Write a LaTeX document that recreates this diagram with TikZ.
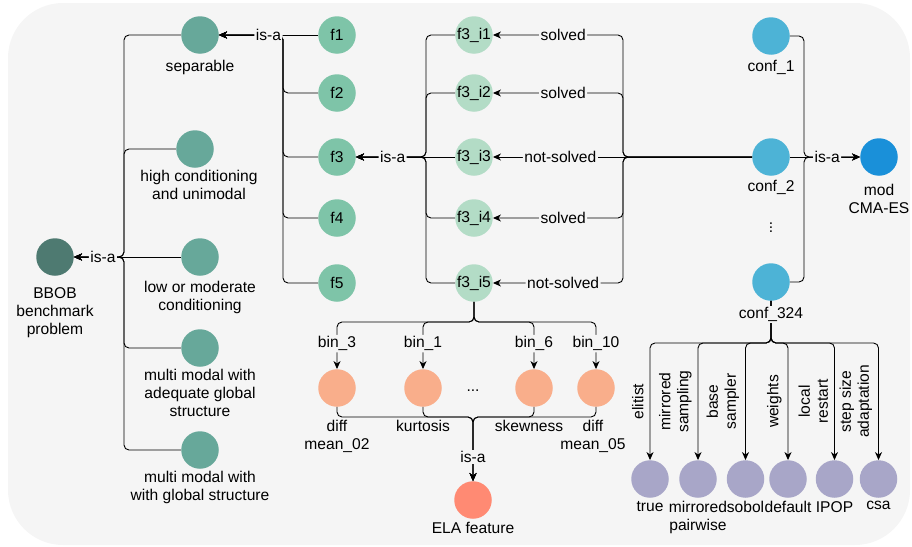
\documentclass[tikz,border=0pt]{standalone}
\usepackage{fontspec}
\setmainfont{Liberation Sans}
\usepackage{tikz}
\usetikzlibrary{arrows.meta,positioning}

\definecolor{bgcol}{HTML}{F5F5F5}
\definecolor{bbobcol}{HTML}{4E7A71}
\definecolor{catcol}{HTML}{67A89A}
\definecolor{funcol}{HTML}{7EC4A8}
\definecolor{instcol}{HTML}{B3DCC6}
\definecolor{confcol}{HTML}{4DB3D6}
\definecolor{modcol}{HTML}{1A90D9}
\definecolor{featcol}{HTML}{F9AE8B}
\definecolor{elacol}{HTML}{FF8A73}
\definecolor{modulecol}{HTML}{A8A6C8}

\begin{document}
\begin{tikzpicture}[x=1pt, y=-1pt, >={Stealth[length=8pt,width=7pt,inset=2.5pt]},
    font=\fontsize{15.6}{18}\selectfont, align=center,
    ball/.style={circle, minimum size=37.5pt, inner sep=0pt},
    txt/.style={inner sep=0pt},
    rel/.style={fill=bgcol, inner sep=1.5pt},
    side/.style={rotate=90, anchor=south, inner sep=1pt, outer sep=5.5pt},
    link/.style={draw=black, rounded corners=5pt, line width=0.9pt}
    ]

    \path[fill=bgcol, rounded corners=55pt] (8,3) rectangle (910,545);
    \useasboundingbox (0,0) rectangle (912,546);

    % problem classes
    \node[ball, fill=bbobcol] (bbob) at (55,257) {};
    \node[ball, fill=catcol]  (sep)  at (200,35)  {};
    \node[ball, fill=catcol]  (hc)   at (195,149) {};
    \node[ball, fill=catcol]  (low)  [on grid, right=145pt of bbob] {};
    \node[ball, fill=catcol]  (mma)  at (200,348) {};
    \node[ball, fill=catcol]  (mmg)  at (200,450) {};

    \node[txt, below=11pt of bbob]          (bbobl) {BBOB\\benchmark\\problem};
    \node[txt, below=6pt of sep]            (sepl)  {separable};
    \node[txt, below=2pt of hc, xshift=4pt] (hcl)   {high conditioning\\and unimodal};
    \node[txt, below=5pt of low]            (lowl)  {low or moderate\\conditioning};
    \node[txt, below=2pt of mma]            (mmal)  {multi modal with\\adequate global\\structure};
    \node[txt, below=2.5pt of mmg]          (mmgl)  {multi modal with\\with global structure};

    % functions and instances
    \node[ball, fill=funcol] (f1) at (337,35) {f1};
    \node[ball, fill=funcol] (f2) [on grid, below=58pt of f1] {f2};
    \node[ball, fill=funcol] (f3) [on grid, below=64pt of f2] {f3};
    \node[ball, fill=funcol] (f4) [on grid, below=61pt of f3] {f4};
    \node[ball, fill=funcol] (f5) [on grid, below=65pt of f4] {f5};
    \foreach \k in {1,...,5}
      \node[ball, fill=instcol] (i\k) [on grid, right=137pt of f\k] {f3\_i\k};

    % configurations
    \node[ball, fill=confcol] (c1)    at (771,36) {};
    \node[ball, fill=confcol] (c2)    [on grid, below=121pt of c1] {};
    \node[txt]                (cdots) [on grid, below=68pt of c2] {$\vdots$};
    \node[ball, fill=confcol] (c324)  [on grid, below=125pt of c2] {};
    \node[ball, fill=modcol]  (mod)   [on grid, right=108pt of c2] {};
    \node[txt, below=5pt of c1]  (c1l)  {conf\_1};
    \node[txt, below=4pt of c2]  (c2l)  {conf\_2};
    \node[txt, below=8pt of mod] (modl) {mod\\CMA-ES};

    % ELA features
    \node[ball, fill=featcol] (o1)    at (337,388) {};
    \node[ball, fill=featcol] (o2)    [on grid, right=86pt of o1] {};
    \node[txt]                (odots) [on grid, right=136pt of o1, yshift=-3pt] {...};
    \node[ball, fill=featcol] (o3)    [on grid, right=197pt of o1] {};
    \node[ball, fill=featcol] (o4)    [on grid, right=259pt of o1] {};
    \node[ball, fill=elacol]  (ela)   at (473,500) {};
    \node[txt, below=13.5pt of o1]              (o1l)  {diff\\mean\_02};
    \node[txt, below=13.5pt of o2]              (o2l)  {kurtosis};
    \node[txt, below=13.5pt of o3, xshift=-5pt] (o3l)  {skewness};
    \node[txt, below=13.5pt of o4, xshift=-3pt] (o4l)  {diff\\mean\_05};
    \node[txt, below=3pt of ela]                (elal) {ELA feature};

    % module settings
    \node[ball, fill=modulecol] (m1) at (650,479) {};
    \node[ball, fill=modulecol] (m2) [on grid, right=48pt of m1] {};
    \node[ball, fill=modulecol] (m3) [on grid, right=47.5pt of m2] {};
    \node[ball, fill=modulecol] (m4) [on grid, right=42.5pt of m3] {};
    \node[ball, fill=modulecol] (m5) [on grid, right=46.5pt of m4] {};
    \node[ball, fill=modulecol] (m6) [on grid, right=44pt of m5] {};
    \node[txt, below=3pt of m1] (m1l) {true};
    \node[txt, below=3pt of m2] (m2l) {mirrored\\pairwise};
    \node[txt, below=3pt of m3] (m3l) {sobol};
    \node[txt, below=3pt of m4] (m4l) {default};
    \node[txt, below=3pt of m5] (m5l) {IPOP};
    \node[txt, below=3pt of m6] (m6l) {csa};

    % brace junctions
    \coordinate (bj) at (124,257);
    \coordinate (fj) at (283,35);
    \coordinate (ij) at (426,157);
    \coordinate (cj) at (623,157);
    \coordinate (mj) at (804,157);
    \coordinate (oj) at (474,322);
    \coordinate (ej) at (473,417);
    \coordinate (pj) at (771,343);

    \foreach \c in {sep,hc,mma,mmg}
      \draw[link,->] (\c.west) -| (bj) -- (bbob.east);
    \draw[link,->] (low.west) -- node[rel, pos=.73] (isa1) {is-a} (bbob.east);

    \foreach \f in {f2,f3,f4,f5}
      \draw[link,->] (\f.west) -| (fj) -- (sep.east);
    \draw[link,->] (f1.west) -- node[rel, pos=.5] (isa2) {is-a} (sep.east);

    \foreach \k in {1,2,4,5}
      \draw[link,->] (i\k.west) -| (ij) -- (f3.east);
    \draw[link,->] (i3.west) -- node[rel, pos=.63] (isa3) {is-a} (f3.east);

    \draw[link,->] (c2.west) -- (cj) |- node[rel, pos=.73] (s1) {solved} (i1.east);
    \draw[link,->] (c2.west) -- (cj) |- node[rel, pos=.73] (s2) {solved} (i2.east);
    \draw[link,->] (c2.west) -- (cj) |- node[rel, pos=.73] (s4) {solved} (i4.east);
    \draw[link,->] (c2.west) -- (cj) |- node[rel, pos=.73] (s5) {not-solved} (i5.east);
    \draw[link,->] (c2.west) -- node[rel, pos=.74] (s3) {not-solved} (i3.east);

    \draw[link,->] (c1.east) -| (mj) -- (mod.west);
    \draw[link,->] (c324.east) -| (mj) -- (mod.west);
    \draw[link,->] (c2.east) -- node[rel, pos=.53] (isa4) {is-a} (mod.west);

    \draw[link,->] (i5.south) -- (oj) -| node[rel, pos=.73] (b3)  {bin\_3}  (o1.north);
    \draw[link,->] (i5.south) -- (oj) -| node[rel, pos=.73] (b1)  {bin\_1}  (o2.north);
    \draw[link,->] (i5.south) -- (oj) -| node[rel, pos=.73] (b6)  {bin\_6}  (o3.north);
    \draw[link,->] (i5.south) -- (oj) -| node[rel, pos=.73] (b10) {bin\_10} (o4.north);

    \foreach \o in {o1,o2,o3,o4}
      \draw[link,->] (\o.south) |- (ej) -- (ela.north);
    \node[rel] (isa5) at (473,457) {is-a};

    \draw[link,->] (c324.south) -- (pj) -| node[side, pos=.75] (e1) {elitist} (m1.north);
    \draw[link,->] (c324.south) -- (pj) -| node[side, pos=.75] (e2) {mirrored\\sampling} (m2.north);
    \draw[link,->] (c324.south) -- (pj) -| node[side, pos=.75] (e3) {base\\sampler} (m3.north);
    \draw[link,->] (c324.south) -- (pj) -| node[side, pos=.75] (e4) {weights} (m4.north);
    \draw[link,->] (c324.south) -- (pj) -| node[side, pos=.75] (e5) {local\\restart} (m5.north);
    \draw[link,->] (c324.south) -- (pj) -| node[side, pos=.75] (e6) {step size\\adaptation} (m6.north);
    \node[txt, fill=bgcol, inner ysep=1pt, below=5pt of c324] (c324l) {conf\_324};

  \end{tikzpicture}
\end{document}
